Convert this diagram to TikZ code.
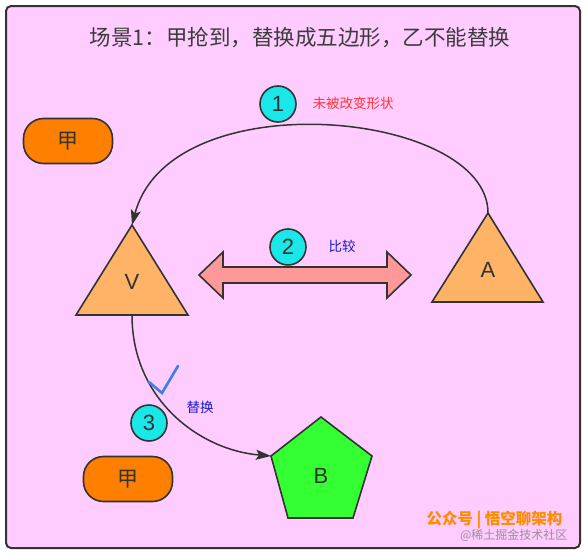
\documentclass[tikz,border=0pt]{standalone}
\usepackage{fontspec}
\setmainfont{Liberation Sans}
\newfontfamily\cjk{Noto Sans CJK SC}
\usetikzlibrary{arrows.meta}
\definecolor{pinkbg}{HTML}{FFCCFF}
\definecolor{edgec}{HTML}{333333}
\definecolor{titlec}{HTML}{3C3C3C}
\definecolor{trifill}{HTML}{FFB366}
\definecolor{pentfill}{HTML}{33FF33}
\definecolor{cyanfill}{HTML}{1AE8E8}
\definecolor{pillfill}{HTML}{FF8000}
\definecolor{arrowfill}{HTML}{FF9999}
\definecolor{redlbl}{HTML}{FF3333}
\definecolor{bluelbl}{HTML}{1A1ACC}
\definecolor{checkc}{HTML}{3A80E6}
\definecolor{footc}{HTML}{FF8C00}
\tikzset{
  shapebox/.style={draw=edgec, line width=1.6pt, line join=miter},
  numcircle/.style={circle, draw=edgec, line width=1.6pt, fill=cyanfill, minimum size=36pt, inner sep=0pt, font=\fontsize{22}{24}\selectfont, text=edgec},
  pill/.style={draw=edgec, line width=1.6pt, fill=pillfill, rounded corners=20pt, minimum width=89pt, minimum height=45pt, inner sep=0pt, font=\cjk\fontsize{21}{24}\selectfont, text=edgec},
  letter/.style={font=\fontsize{22}{24}\selectfont, text=edgec},
  smalllbl/.style={font=\cjk\fontsize{13.5}{16}\selectfont},
  conn/.style={draw=edgec, line width=1.5pt, -{Stealth[length=15pt,width=10pt,inset=3pt]}}
}
\begin{document}
\begin{tikzpicture}[x=1pt,y=-1pt]
\useasboundingbox (0,0) rectangle (586,554);
\fill[white] (0,0) rectangle (586,554);
\draw[draw=edgec, line width=2pt, fill=pinkbg, rounded corners=5pt] (6,6) rectangle (580,548);

% title
\node[font=\cjk\fontsize{21.5}{24}\selectfont, text=titlec] (title) at (300,38) {场景1：甲抢到，替换成五边形，乙不能替换};

% pills
\node[pill] (jia1) at (68,141) {甲};
\node[pill] (jia2) at (128,479) {甲};

% triangle V
\path[shapebox, fill=trifill] (132,225) coordinate (Vtop) -- (188,315) -- (76,315) -- cycle;
\coordinate (Vbot) at (132,315);
\node[letter] (V) at (132,282) {V};

% triangle A
\path[shapebox, fill=trifill] (488,213) coordinate (Atop) -- (543,302) -- (432,302) -- cycle;
\node[letter] (A) at (488,270) {A};

% pentagon B
\path[shapebox, fill=pentfill] (321,417) -- (372,456) -- (353,518) -- (288,518) -- (271,456) coordinate (Bleft) -- cycle;
\node[letter] (B) at (321,476) {B};

% double arrow
\path[shapebox, fill=arrowfill] (199,275) -- (223,252) -- (223,267) -- (387,267) -- (387,252) -- (411,275)
  -- (387,298) -- (387,283) -- (223,283) -- (223,298) -- cycle;

% connectors
\draw[conn] (Atop) .. controls +(0,-103) and +(38,-145) .. (Vtop);
\draw[conn] (Vbot) .. controls +(0,85) and +(-71,-6) .. (Bleft);

% numbered circles
\node[numcircle] (n1) at (278,104) {1};
\node[numcircle] (n2) at (288,247) {2};
\node[numcircle] (n3) at (149,423) {3};

% labels
\node[smalllbl, text=redlbl, anchor=west] (l1) at (309,103) {未被改变形状};
\node[smalllbl, text=bluelbl, anchor=west] (l2) at (325,246) {比较};
\node[smalllbl, text=bluelbl, anchor=west] (l3) at (183,407) {替换};

% check mark
\draw[checkc, line width=2.6pt, line cap=round] (149,382) -- (162,393) -- (178,366);

% footer
\node[font=\cjk\bfseries\fontsize{15.5}{18}\selectfont, text=footc, anchor=east] (foot) at (566,520) {公众号 | 悟空聊架构};
\node[font=\cjk\fontsize{12}{14}\selectfont, text=gray, opacity=0.8, anchor=east] (wm) at (571,535) {@稀土掘金技术社区};
\end{tikzpicture}
\end{document}
